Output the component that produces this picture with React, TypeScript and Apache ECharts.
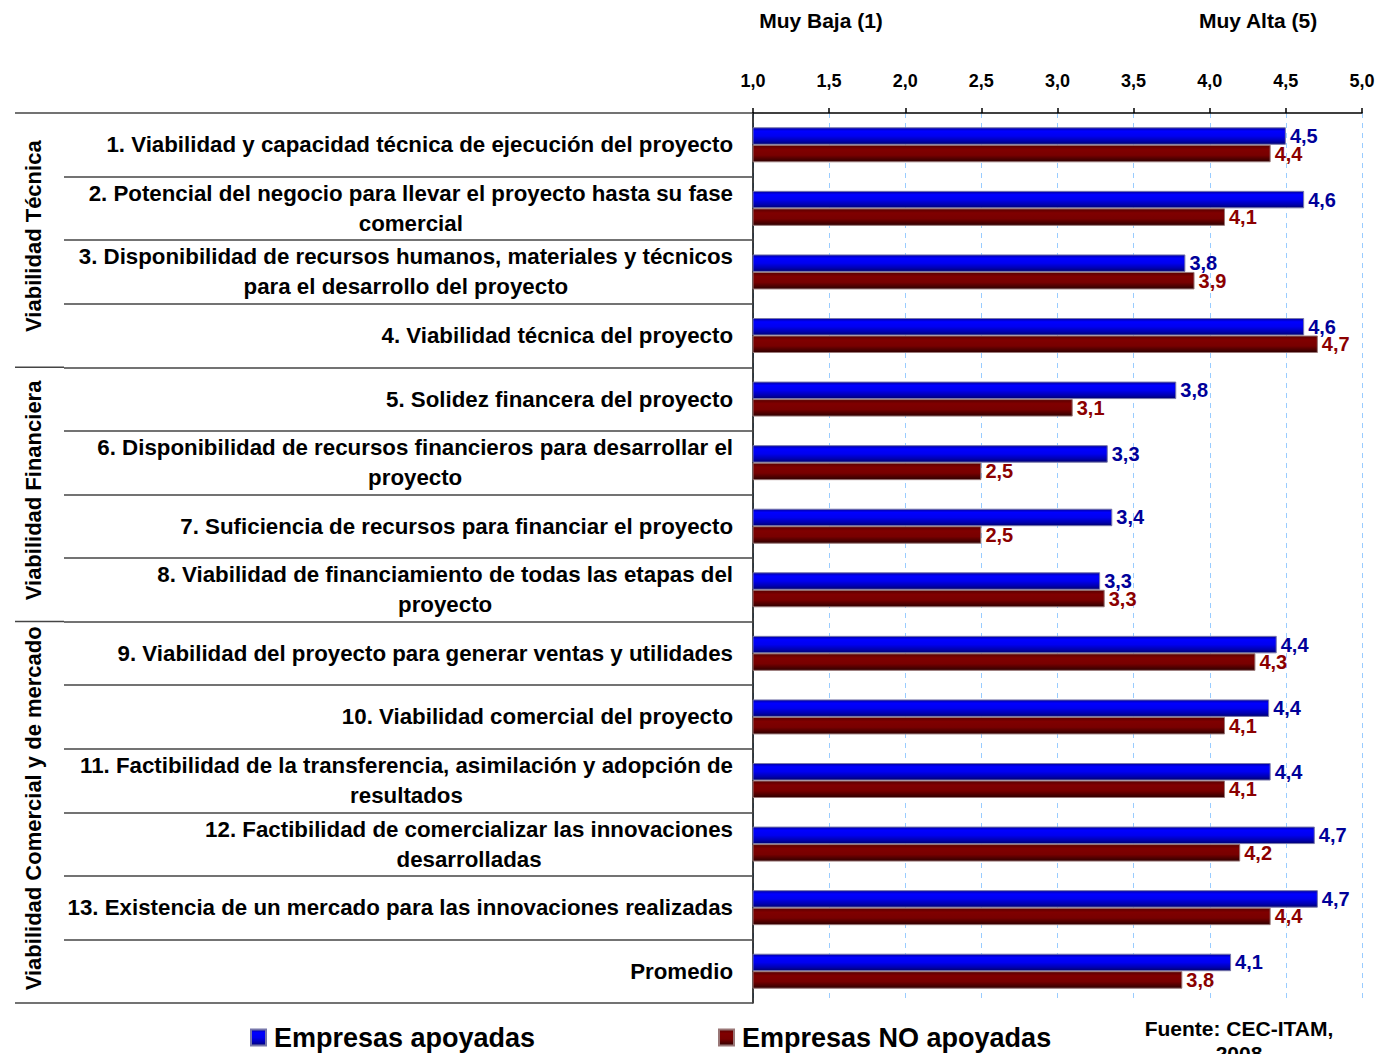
import React, { useEffect, useRef } from "react";
import * as echarts from "echarts";

const categories = [
  "1. Viabilidad y capacidad técnica de ejecución del proyecto",
  "2. Potencial del negocio para llevar el proyecto hasta su fase\ncomercial",
  "3. Disponibilidad de recursos humanos, materiales y técnicos\npara el desarrollo del proyecto",
  "4. Viabilidad técnica del proyecto",
  "5. Solidez financera del proyecto",
  "6. Disponibilidad de recursos financieros para desarrollar el\nproyecto",
  "7. Suficiencia de recursos para financiar el proyecto",
  "8. Viabilidad de financiamiento de todas las etapas del\nproyecto",
  "9. Viabilidad del proyecto para generar ventas y utilidades",
  "10. Viabilidad comercial del proyecto",
  "11. Factibilidad de la transferencia, asimilación y adopción de\nresultados",
  "12. Factibilidad de comercializar las innovaciones\ndesarrolladas",
  "13. Existencia de un mercado para las innovaciones realizadas",
  "Promedio",
];

const apoyadas = [4.5, 4.62, 3.84, 4.62, 3.78, 3.33, 3.36, 3.28, 4.44, 4.39, 4.4, 4.69, 4.71, 4.14];
const noApoyadas = [4.4, 4.1, 3.9, 4.71, 3.1, 2.5, 2.5, 3.31, 4.3, 4.1, 4.1, 4.2, 4.4, 3.82];

const groupNames = ["Viabilidad Técnica", "Viabilidad Financiera", "Viabilidad Comercial y de mercado"];
const groupSizes = [4, 4, 6];

const seriesNames = ["Empresas apoyadas", "Empresas NO apoyadas"];
const scaleTitles = ["Muy Baja (1)", "Muy Alta (5)"];
const sourceText = "Fuente: CEC-ITAM,\n2008";

const FONT = "'Liberation Sans', Arial, sans-serif";

const GRID_LEFT = 753;
const GRID_TOP = 113;
const GRID_W = 609;
const GRID_H = 890;

const fmt = (v: number) => v.toFixed(1).replace(".", ",");

const blueGrad = new echarts.graphic.LinearGradient(0, 0, 0, 1, [
  { offset: 0, color: "#0000a0" },
  { offset: 0.2, color: "#0000ff" },
  { offset: 0.5, color: "#0000f0" },
  { offset: 0.8, color: "#0000b0" },
  { offset: 1, color: "#000070" },
]);
const redGrad = new echarts.graphic.LinearGradient(0, 0, 0, 1, [
  { offset: 0, color: "#580000" },
  { offset: 0.25, color: "#800000" },
  { offset: 0.6, color: "#780000" },
  { offset: 1, color: "#2e0000" },
]);

export default function App() {
  const ref = useRef<HTMLDivElement>(null);

  useEffect(() => {
    if (!ref.current) return;
    const chart = echarts.init(ref.current, undefined, { renderer: "svg" });
    const rowH = GRID_H / categories.length;

    const graphics: any[] = [];
    let idx = 0;
    const bounds = [0];
    groupSizes.forEach((s) => {
      idx += s;
      bounds.push(idx);
    });
    bounds.forEach((b) => {
      const y = GRID_TOP + b * rowH;
      graphics.push({
        type: "line",
        shape: { x1: 15, y1: y, x2: 64, y2: y },
        style: { stroke: "#444", lineWidth: 1.5 },
      });
    });
    groupNames.forEach((g, i) => {
      const y0 = GRID_TOP + bounds[i] * rowH;
      const y1 = GRID_TOP + bounds[i + 1] * rowH;
      graphics.push({
        type: "text",
        x: 33,
        y: (y0 + y1) / 2 - 4,
        rotation: Math.PI / 2,
        style: {
          text: g,
          fontSize: 22,
          fontWeight: "bold",
          fontFamily: FONT,
          fill: "#000",
          align: "center",
          verticalAlign: "middle",
        },
      });
    });
    graphics.push({
      type: "text",
      x: 821,
      y: 20,
      style: { text: scaleTitles[0], fontSize: 21, fontWeight: "bold", fontFamily: FONT, fill: "#000", align: "center", verticalAlign: "middle" },
    });
    graphics.push({
      type: "text",
      x: 1258,
      y: 20,
      style: { text: scaleTitles[1], fontSize: 21, fontWeight: "bold", fontFamily: FONT, fill: "#000", align: "center", verticalAlign: "middle" },
    });
    graphics.push({
      type: "text",
      x: 1239,
      y: 1016,
      style: {
        text: sourceText,
        fontSize: 21,
        fontWeight: "bold",
        fontFamily: FONT,
        fill: "#000",
        align: "center",
        verticalAlign: "top",
        lineHeight: 25,
      },
    });

    const legendText = { fontSize: 27, fontWeight: "bold", fontFamily: FONT, color: "#000", padding: [0, 0, 0, 3] };

    const option: any = {
      animation: false,
      backgroundColor: "#fff",
      grid: { left: GRID_LEFT, top: GRID_TOP, width: GRID_W, height: GRID_H, containLabel: false },
      legend: [
        {
          data: [seriesNames[0]],
          left: 250,
          top: 1024,
          padding: 0,
          icon: "rect",
          itemWidth: 15,
          itemHeight: 16,
          itemGap: 0,
          textStyle: legendText,
        },
        {
          data: [seriesNames[1]],
          left: 718,
          top: 1024,
          padding: 0,
          icon: "rect",
          itemWidth: 15,
          itemHeight: 16,
          itemGap: 0,
          textStyle: legendText,
        },
      ],
      xAxis: {
        type: "value",
        position: "top",
        min: 1,
        max: 5,
        interval: 0.5,
        axisLine: { show: true, lineStyle: { color: "#000", width: 1.5 } },
        axisTick: { show: true, length: 5, lineStyle: { color: "#000", width: 1.5 } },
        axisLabel: {
          formatter: (v: number) => fmt(v),
          fontSize: 18,
          fontWeight: "bold",
          fontFamily: FONT,
          color: "#000",
          margin: 23,
        },
        splitLine: { show: true, lineStyle: { color: "#99ccff", type: [5, 5], width: 1 } },
      },
      yAxis: {
        type: "category",
        inverse: true,
        data: categories,
        axisLine: { show: true, lineStyle: { color: "#000", width: 1.5 } },
        axisTick: { show: true, length: 689, lineStyle: { color: "#444", width: 1.5 } },
        axisLabel: {
          interval: 0,
          margin: 20,
          align: "right",
          formatter: (v: string) =>
            v
              .split("\n")
              .map((l) => `{c|${l}}`)
              .join("\n"),
          rich: {
            c: {
              align: "center",
              fontSize: 22.3,
              fontWeight: "bold",
              fontFamily: FONT,
              color: "#000",
              lineHeight: 30,
            },
          },
        },
        splitLine: { show: false },
      },
      series: [
        {
          name: seriesNames[0],
          type: "bar",
          data: apoyadas,
          barWidth: 17.5,
          barGap: "0%",
          clip: true,
          itemStyle: { color: blueGrad, borderColor: "#7777aa", borderWidth: 1 },
          label: {
            show: true,
            position: "right",
            distance: 4,
            formatter: (p: any) => fmt(p.value),
            fontSize: 20,
            fontWeight: "bold",
            fontFamily: FONT,
            color: "#000099",
          },
        },
        {
          name: seriesNames[1],
          type: "bar",
          data: noApoyadas,
          barWidth: 17.5,
          barGap: "0%",
          clip: true,
          itemStyle: { color: redGrad, borderColor: "#997777", borderWidth: 1 },
          label: {
            show: true,
            position: "right",
            distance: 4,
            formatter: (p: any) => fmt(p.value),
            fontSize: 20,
            fontWeight: "bold",
            fontFamily: FONT,
            color: "#8b0000",
          },
        },
      ],
      graphic: graphics,
    };

    chart.setOption(option);
    return () => chart.dispose();
  }, []);

  return (
    <div
      ref={ref}
      style={{ position: "absolute", left: 0, top: 0, width: 1392, height: 1054 }}
    />
  );
}
